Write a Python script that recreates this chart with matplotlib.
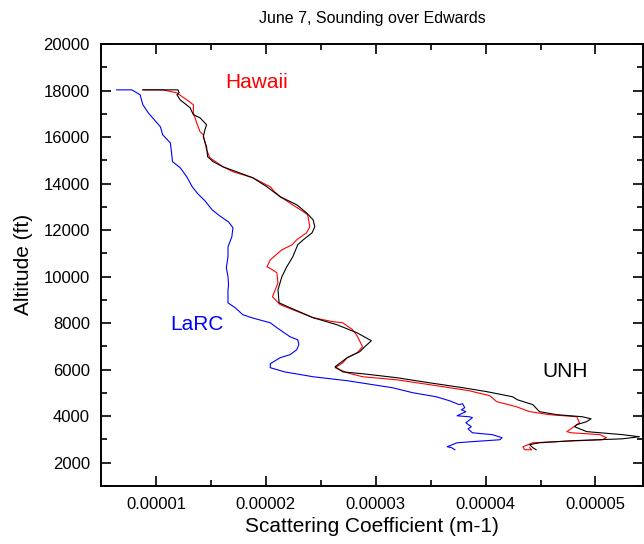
# June 7 sounding over Edwards - scattering coefficient profiles

import matplotlib.pyplot as plt
from matplotlib.ticker import MultipleLocator
import numpy as np

plt.rcParams['font.family'] = ['Liberation Sans', 'DejaVu Sans']

# scattering coefficient in units of 1e-5 m-1, altitude in ft
larc_x = [0.64, 0.78, 0.855, 0.88, 0.93, 1.04, 1.06, 1.13, 1.14, 1.15, 1.22, 1.28, 1.33, 1.38,
          1.445, 1.51, 1.58, 1.66, 1.70, 1.69, 1.655, 1.655, 1.64, 1.655, 1.66, 1.655, 1.655,
          1.72, 1.79, 1.87, 2.04, 2.10, 2.22, 2.29, 2.30, 2.28, 2.22, 2.13, 2.04, 2.04, 2.17,
          2.43, 2.74, 3.04, 3.15, 3.34, 3.55, 3.67, 3.76, 3.79, 3.81, 3.78, 3.82, 3.74, 3.85,
          3.88, 3.82, 3.87, 3.84, 3.88, 4.06, 4.15, 4.13, 3.88, 3.74, 3.65, 3.69, 3.72]
larc_alt = [18030, 18030, 17820, 17390, 17040, 16440, 16100, 15750, 15370, 14940, 14680, 14290,
            13860, 13560, 13260, 12870, 12610, 12350, 12100, 11710, 11280, 10850, 10380, 9990,
            9650, 9430, 8870, 8660, 8360, 8230, 8010, 7800, 7410, 7280, 7070, 6850, 6640, 6510,
            6250, 6080, 5900, 5690, 5520, 5300, 5220, 5000, 4830, 4660, 4490, 4530, 4360, 4270,
            4190, 4010, 3970, 3930, 3710, 3540, 3450, 3280, 3200, 3070, 2980, 2900, 2850, 2680,
            2640, 2550]

unh_x = [0.88, 1.20, 1.21, 1.19, 1.22, 1.31, 1.34, 1.40, 1.46, 1.445, 1.43, 1.46, 1.47, 1.52,
         1.61, 1.76, 1.88, 2.01, 2.13, 2.28, 2.37, 2.43, 2.445, 2.42, 2.34, 2.29, 2.245, 2.19,
         2.145, 2.11, 2.12, 2.22, 2.43, 2.645, 2.83, 2.96, 2.90, 2.855, 2.74, 2.63, 2.70, 2.88,
         3.19, 3.49, 3.79, 4.01, 4.245, 4.29, 4.43, 4.49, 4.645, 4.88, 4.96, 4.92, 4.83, 4.81,
         4.92, 5.245, 5.40, 5.245, 4.79, 4.49, 4.40, 4.43, 4.46]
unh_alt = [18030, 18030, 17900, 17820, 17600, 17260, 16960, 16830, 16530, 16310, 16010, 15580,
           15150, 14940, 14720, 14460, 14250, 13860, 13430, 13090, 12740, 12440, 12140, 11880,
           11580, 11370, 10850, 10420, 9990, 9430, 8870, 8660, 8230, 7930, 7580, 7240, 6980,
           6770, 6510, 6120, 5900, 5820, 5650, 5430, 5220, 5050, 4830, 4700, 4490, 4190, 4060,
           3970, 3880, 3760, 3630, 3540, 3330, 3200, 3110, 3020, 2940, 2850, 2770, 2640, 2550]

hawaii_x = [0.88, 1.06, 1.19, 1.28, 1.34, 1.34, 1.37, 1.40, 1.43, 1.46, 1.49, 1.61, 1.70, 1.88,
            2.04, 2.08, 2.145, 2.34, 2.38, 2.40, 2.37, 2.28, 2.24, 2.145, 2.04, 2.01, 2.06, 2.10,
            2.11, 2.06, 2.13, 2.43, 2.61, 2.70, 2.79, 2.83, 2.88, 2.83, 2.74, 2.70, 2.63, 2.74,
            2.88, 3.19, 3.49, 3.85, 4.04, 4.10, 4.28, 4.40, 4.58, 4.83, 4.855, 4.79, 4.74, 4.78,
            5.04, 5.10, 5.06, 4.645, 4.43, 4.34, 4.355, 4.42, 4.40]
hawaii_alt = [18030, 18030, 17900, 17600, 17390, 17040, 16610, 16230, 16100, 15450, 15110, 14720,
              14510, 14250, 13860, 13640, 13390, 12790, 12660, 12140, 11880, 11580, 11370, 11150,
              10720, 10420, 10290, 10160, 9730, 9130, 8790, 8230, 8060, 8010, 7710, 7450, 6980,
              6720, 6510, 6290, 6080, 5860, 5690, 5560, 5350, 5090, 4870, 4620, 4400, 4190, 4060,
              3970, 3710, 3500, 3330, 3280, 3200, 3070, 2980, 2900, 2850, 2680, 2550, 2550, 2640]

fig = plt.figure(figsize=(6.44, 5.44), dpi=100)
ax = fig.add_axes([0.157, 0.107, 0.841, 0.812])

ax.plot(np.array(larc_x)*1e-5, larc_alt, color='#0000ff', linewidth=0.8)
ax.plot(np.array(hawaii_x)*1e-5, hawaii_alt, color='#ff0000', linewidth=0.8)
ax.plot(np.array(unh_x)*1e-5, unh_alt, color='k', linewidth=0.8)

ax.text(1.92e-5, 18330, 'Hawaii', color='#ff0000', fontsize=15, ha='center', va='center')
ax.text(1.37e-5, 7930, 'LaRC', color='#0000ff', fontsize=15, ha='center', va='center')
ax.text(4.72e-5, 5900, 'UNH', color='k', fontsize=15, ha='center', va='center')

ax.set_xlim(0.5e-5, 5.43e-5)
ax.set_ylim(1000, 20000)
ax.xaxis.set_major_locator(MultipleLocator(1e-5))
ax.xaxis.set_minor_locator(MultipleLocator(0.5e-5))
ax.yaxis.set_major_locator(MultipleLocator(2000))
ax.yaxis.set_minor_locator(MultipleLocator(1000))
ax.set_xticks([1e-5, 2e-5, 3e-5, 4e-5, 5e-5])
ax.set_xticklabels(['0.00001', '0.00002', '0.00003', '0.00004', '0.00005'])

ax.tick_params(which='both', direction='in', top=True, right=True, labelsize=12, width=1.2)
ax.tick_params(which='major', length=7, pad=8)
ax.tick_params(which='minor', length=4)
for s in ax.spines.values():
    s.set_linewidth(1.4)

ax.set_xlabel('Scattering Coefficient (m-1)', fontsize=15, labelpad=4)
ax.set_ylabel('Altitude (ft)', fontsize=15, labelpad=8)
ax.set_title('June 7, Sounding over Edwards', fontsize=11.5, pad=15)

fig.savefig('out.png', dpi=100)
